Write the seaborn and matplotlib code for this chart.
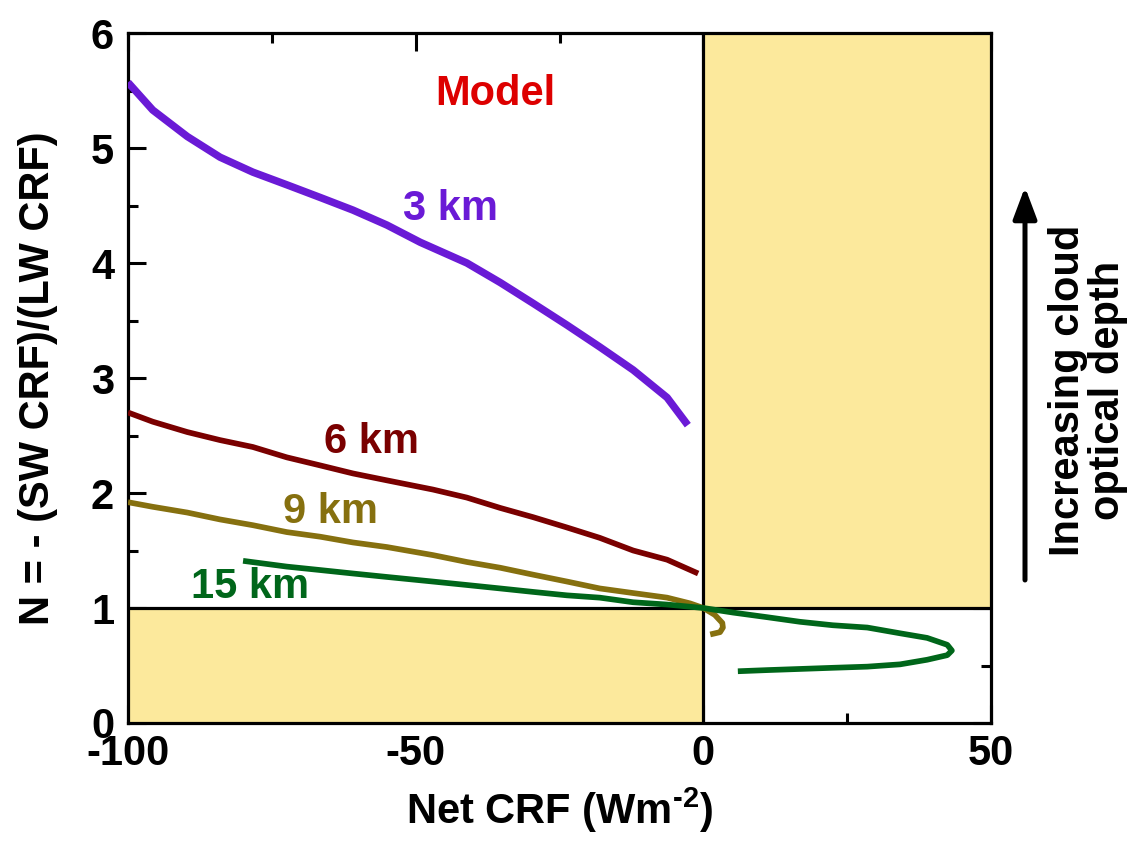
import numpy as np
import pandas as pd
import matplotlib
matplotlib.use("Agg")
import matplotlib.pyplot as plt
import seaborn as sns
from matplotlib.ticker import MultipleLocator

# ---------------- data ----------------
x_3km = [-100, -95.7, -89.7, -84.0, -78.3, -72.4, -66.6, -60.9, -55.0, -49.2,
         -41.1, -35.3, -29.6, -23.7, -18.0, -12.2, -6.3, -2.7]
y_3km = [5.57, 5.33, 5.10, 4.92, 4.79, 4.68, 4.57, 4.46, 4.33, 4.18,
         4.00, 3.83, 3.65, 3.46, 3.27, 3.07, 2.83, 2.59]

x_6km = [-100, -95.7, -89.7, -84.0, -78.3, -72.4, -66.6, -60.9, -55.0, -47.0,
         -41.1, -35.3, -29.6, -23.7, -18.0, -12.2, -6.3, -0.9]
y_6km = [2.70, 2.62, 2.53, 2.46, 2.40, 2.31, 2.24, 2.17, 2.11, 2.03,
         1.96, 1.87, 1.79, 1.70, 1.61, 1.50, 1.42, 1.30]

x_9km = [-100, -95.7, -89.7, -84.0, -78.3, -72.4, -66.6, -60.9, -55.0, -47.0,
         -41.1, -35.3, -29.6, -23.7, -18.0, -12.2, -6.3, -2.3, 0.0, 2.0,
         3.3, 3.4, 2.9, 1.2]
y_9km = [1.92, 1.88, 1.83, 1.77, 1.72, 1.66, 1.62, 1.57, 1.53, 1.46,
         1.40, 1.35, 1.29, 1.23, 1.17, 1.13, 1.09, 1.04, 1.00, 0.94,
         0.87, 0.83, 0.79, 0.77]

x_15km = [-80.0, -72.4, -66.6, -60.9, -55.0, -47.0, -41.1, -35.3, -29.6, -23.7,
          -18.0, -12.2, -6.3, 0.0, 5.2, 11.1, 16.8, 22.5, 28.5, 34.2,
          38.9, 42.4, 43.2, 42.4, 38.9, 34.2, 28.5, 22.5, 16.8, 11.1, 6.0]
y_15km = [1.41, 1.36, 1.33, 1.30, 1.27, 1.23, 1.20, 1.17, 1.14, 1.11,
          1.09, 1.05, 1.03, 1.00, 0.96, 0.92, 0.88, 0.85, 0.83, 0.78,
          0.74, 0.68, 0.63, 0.59, 0.55, 0.51, 0.49, 0.48, 0.47, 0.46, 0.45]

series_names = ["3 km", "6 km", "9 km", "15 km"]
series_colors = ["#6a1ad6", "#7a0000", "#86700f", "#00661a"]
series_widths = [5.4, 4.1, 4.1, 4.1]
label_pos = [(-44.0, 4.37), (-57.6, 2.35), (-64.8, 1.74), (-78.8, 1.09)]

x_ticks = [-100, -50, 0, 50]
y_ticks = [0, 1, 2, 3, 4, 5, 6]
xlim = (-100, 50)
ylim = (0, 6)
crf_zero = 0
n_one = 1

# ---------------- style ----------------
sns.set_theme(style="ticks")
plt.rcParams["font.family"] = ["Liberation Sans", "DejaVu Sans"]
plt.rcParams["font.weight"] = "bold"
plt.rcParams["axes.unicode_minus"] = False
plt.rcParams["mathtext.fontset"] = "custom"
plt.rcParams["mathtext.rm"] = "Liberation Sans:bold"
plt.rcParams["mathtext.bf"] = "Liberation Sans:bold"
plt.rcParams["mathtext.default"] = "bf"
for key in ["text.color", "axes.labelcolor", "xtick.color", "ytick.color",
            "xtick.labelcolor", "ytick.labelcolor"]:
    plt.rcParams[key] = "black"

fig = plt.figure(figsize=(11.44, 8.46), dpi=100)
ax = fig.add_axes([128 / 1144, 1 - 723 / 846, (991 - 128) / 1144, (723 - 33) / 846])

ax.set_xlim(*xlim)
ax.set_ylim(*ylim)
ax.set_axisbelow(True)

yellow = "#fce99c"
ax.fill_between([crf_zero, xlim[1]], n_one, ylim[1], color=yellow, lw=0, zorder=1)
ax.fill_between([xlim[0], crf_zero], ylim[0], n_one, color=yellow, lw=0, zorder=1)
ax.axvline(crf_zero, color="black", lw=2.3, zorder=2)
ax.axhline(n_one, color="black", lw=2.3, zorder=2)

xs = [x_3km, x_6km, x_9km, x_15km]
ys = [y_3km, y_6km, y_9km, y_15km]
for name, x, y, c, w in zip(series_names, xs, ys, series_colors, series_widths):
    df = pd.DataFrame({"x": x, "y": y})
    sns.lineplot(data=df, x="x", y="y", sort=False, estimator=None, color=c,
                 linewidth=w, ax=ax, zorder=4, solid_joinstyle="round",
                 solid_capstyle="butt")

for name, (tx, ty), c in zip(series_names, label_pos, series_colors):
    ax.text(tx, ty, name, color=c, fontsize=30, fontweight="bold",
            ha="center", va="baseline", zorder=5)
ax.text(-36.2, 5.37, "Model", color="#dd0000", fontsize=30, fontweight="bold",
        ha="center", va="baseline", zorder=5)

ax.xaxis.set_major_locator(MultipleLocator(50))
ax.xaxis.set_minor_locator(MultipleLocator(25))
ax.yaxis.set_major_locator(MultipleLocator(1))
ax.yaxis.set_minor_locator(MultipleLocator(0.5))
ax.set_xticks(x_ticks)
ax.set_yticks(y_ticks)
ax.tick_params(which="both", direction="in", top=True, right=True,
               color="black", width=2.2)
ax.tick_params(which="major", length=13, labelsize=30, labelcolor="black")
ax.tick_params(axis="x", which="major", pad=8)
ax.tick_params(axis="y", which="major", pad=10)
ax.tick_params(which="minor", length=7)
for lab in ax.get_xticklabels() + ax.get_yticklabels():
    lab.set_fontweight("bold")

for sp in ax.spines.values():
    sp.set_linewidth(2.3)
    sp.set_color("black")
    sp.set_zorder(3)

ax.set_xlabel("Net CRF (Wm$^{\\text{-2}}$)", fontsize=30, fontweight="bold",
              labelpad=8, color="black")
ax.set_ylabel("N = - (SW CRF)/(LW CRF)", fontsize=30, fontweight="bold",
              labelpad=24, color="black")

# arrow + annotation on the right
ax.annotate("", xy=(1025 / 1144, 1 - 187 / 846), xytext=(1025 / 1144, 1 - 580 / 846),
            xycoords="figure fraction", textcoords="figure fraction",
            arrowprops=dict(arrowstyle="-|>,head_length=1.6,head_width=0.6",
                            color="black", lw=3.6, shrinkA=0, shrinkB=0),
            annotation_clip=False)
fig.text(1088 / 1144, 1 - 390 / 846, "Increasing cloud\noptical depth",
         rotation=90, fontsize=30, fontweight="bold", ha="center", va="center",
         multialignment="center", linespacing=1.0, color="black")

fig.savefig("out.png", dpi=100)
